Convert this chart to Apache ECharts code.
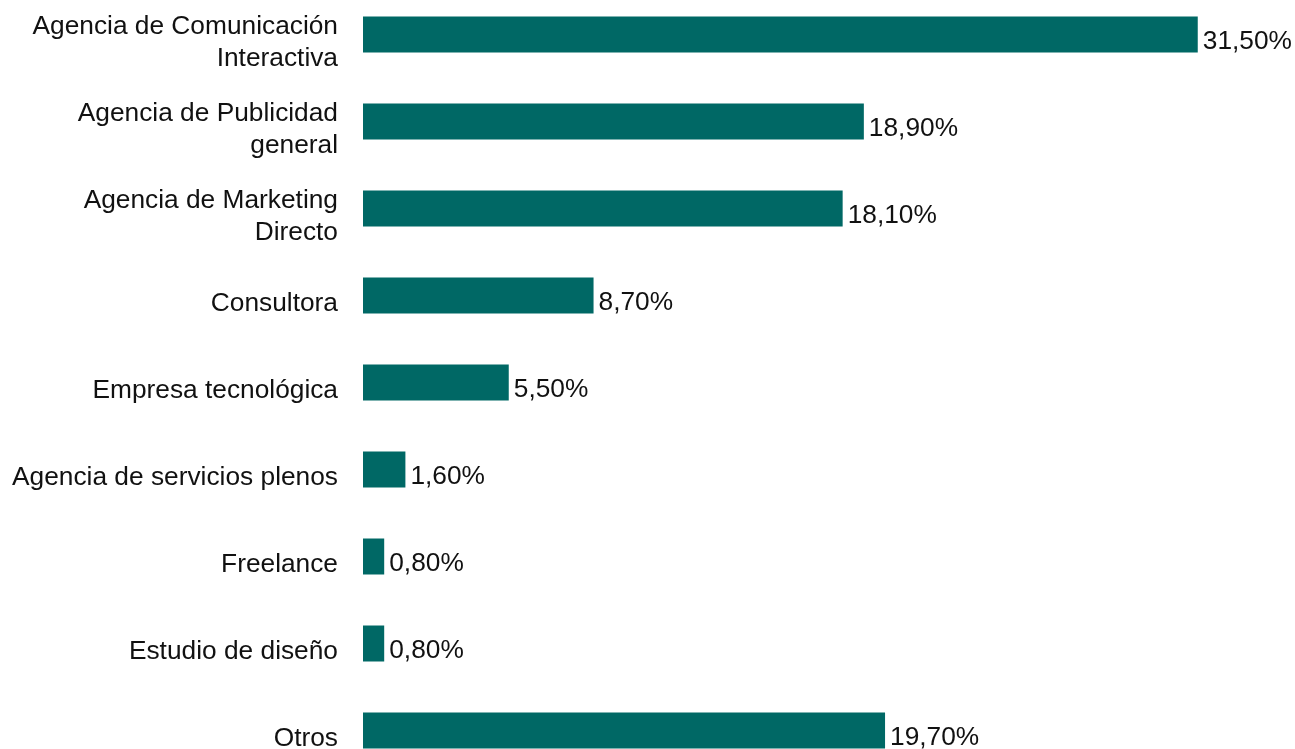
<!DOCTYPE html>
<html>
<head>
<meta charset="utf-8">
<script src="https://cdn.jsdelivr.net/npm/echarts@6/dist/echarts.min.js"></script>
<style>
  html, body { margin: 0; padding: 0; background: #ffffff; overflow: hidden; width: 1295px; height: 749px; }
  /* the plot runs slightly past the top and bottom edges of the page */
  #chart { width: 1295px; height: 783px; margin-top: -9px; }
</style>
</head>
<body>
<div id="chart"></div>
<script>
// Tipo de empresa (porcentaje de respuestas)
const categories = [
  'Agencia de Comunicación\nInteractiva',
  'Agencia de Publicidad\ngeneral',
  'Agencia de Marketing\nDirecto',
  'Consultora',
  'Empresa tecnológica',
  'Agencia de servicios plenos',
  'Freelance',
  'Estudio de diseño',
  'Otros'
];
const values = [31.5, 18.9, 18.1, 8.7, 5.5, 1.6, 0.8, 0.8, 19.7];

const fmtPct = v => v.toFixed(2).replace('.', ',') + '%';
const FONT = 26.3;

const chart = echarts.init(document.getElementById('chart'), null, { renderer: 'canvas' });
chart.setOption({
  animation: false,
  backgroundColor: '#ffffff',
  textStyle: { fontFamily: '"Liberation Sans", Arial, Helvetica, sans-serif' },
  grid: { left: 363, top: 0, width: 927.5, height: 783 },
  xAxis: {
    type: 'value',
    min: 0,
    max: 35,
    show: false
  },
  yAxis: {
    type: 'category',
    data: categories,
    inverse: true,
    axisLine: { show: false },
    axisTick: { show: false },
    splitLine: { show: false },
    axisLabel: { show: false }
  },
  series: [
    {
      // category names, set just left of each bar's base
      type: 'bar',
      data: values,
      barWidth: 36,
      silent: true,
      itemStyle: { color: 'rgba(0,0,0,0)' },
      label: {
        show: true,
        position: 'left',
        distance: 25,
        align: 'right',
        color: '#111111',
        fontSize: FONT,
        lineHeight: 32,
        offset: [0, 8],
        formatter: p => p.name
      }
    },
    {
      type: 'bar',
      data: values,
      barWidth: 36,
      barGap: '-100%',
      itemStyle: { color: '#006865' },
      label: {
        show: true,
        position: 'right',
        distance: 5,
        color: '#111111',
        fontSize: FONT,
        offset: [0, 7],
        formatter: p => fmtPct(p.value)
      }
    }
  ]
});
</script>
</body>
</html>
